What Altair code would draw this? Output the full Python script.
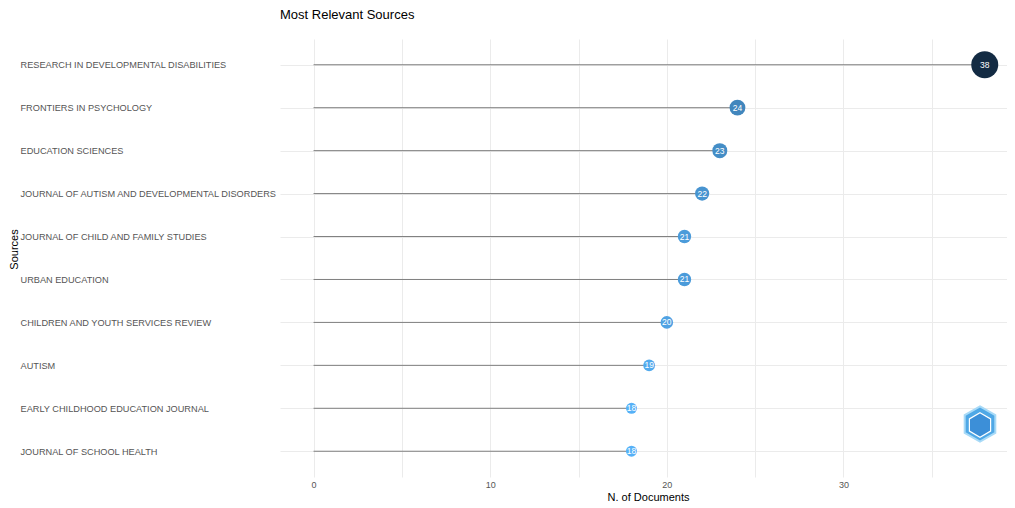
import altair as alt
import pandas as pd

sources = [
    "RESEARCH IN DEVELOPMENTAL DISABILITIES",
    "FRONTIERS IN PSYCHOLOGY",
    "EDUCATION SCIENCES",
    "JOURNAL OF AUTISM AND DEVELOPMENTAL DISORDERS",
    "JOURNAL OF CHILD AND FAMILY STUDIES",
    "URBAN EDUCATION",
    "CHILDREN AND YOUTH SERVICES REVIEW",
    "AUTISM",
    "EARLY CHILDHOOD EDUCATION JOURNAL",
    "JOURNAL OF SCHOOL HEALTH",
]
documents = [38, 24, 23, 22, 21, 21, 20, 19, 18, 18]

df = pd.DataFrame({"source": sources, "docs": documents, "zero": [0] * len(sources)})

FONT = "Liberation Sans"
vmin, vmax = min(documents), max(documents)

y_enc = alt.Y(
    "source:N",
    sort=sources,
    scale=alt.Scale(type="point", padding=0.6),
    title="Sources",
    axis=alt.Axis(
        labelAlign="left",
        labelPadding=260,
        labelFont=FONT,
        labelFontSize=9.2,
        labelColor="#555555",
        labelLimit=400,
        ticks=False,
        domain=False,
        grid=True,
        gridColor="#EBEBEB",
        gridWidth=1,
        titleFont=FONT,
        titleFontSize=11,
        titleFontWeight="normal",
        titleColor="#000000",
        titleX=-261,
        titleY=210,
    ),
)

x_scale = alt.Scale(domain=[-1.9, 39.26], nice=False, zero=False)

segments = alt.Chart(df).mark_rule(color="#7F7F7F", strokeWidth=1).encode(
    x=alt.X(
        "zero:Q",
        scale=x_scale,
        title="N. of Documents",
        axis=alt.Axis(
            values=[0, 5, 10, 15, 20, 25, 30, 35],
            labelExpr="datum.value % 10 === 0 ? datum.label : ''",
            labelFont=FONT,
            labelFontSize=9,
            labelColor="#555555",
            labelPadding=3,
            ticks=False,
            domain=False,
            grid=True,
            gridColor="#EBEBEB",
            gridWidth=1,
            titleFont=FONT,
            titleFontSize=11,
            titleFontWeight="normal",
            titleColor="#000000",
            titlePadding=2,
            titleX=368,
        ),
    ),
    x2="docs:Q",
    y=y_enc,
)

points = alt.Chart(df).transform_calculate(
    diam=f"11 + (datum.docs - {vmin}) * {16 / (vmax - vmin)}",
    sz="datum.diam * datum.diam",
).mark_circle(opacity=1).encode(
    x=alt.X("docs:Q", scale=x_scale),
    y=alt.Y("source:N", sort=sources),
    size=alt.Size("sz:Q", scale=None, legend=None),
    color=alt.Color(
        "docs:Q",
        scale=alt.Scale(domain=[vmin, vmax], range=["#56B1F7", "#132B43"], interpolate="lab"),
        legend=None,
    ),
)

labels = alt.Chart(df).mark_text(
    color="white", font=FONT, fontSize=8.5, align="center", baseline="middle"
).encode(
    x=alt.X("docs:Q", scale=x_scale),
    y=alt.Y("source:N", sort=sources),
    text="docs:Q",
)

hexpath = "M0,-1L0.866,-0.5L0.866,0.5L0,1L-0.866,0.5L-0.866,-0.5Z"
logo_df = pd.DataFrame({"k": [1]})
logo_outer = alt.Chart(logo_df).mark_point(
    shape=hexpath, filled=True, fill="#4FA8E6", stroke="#A8DAF7", strokeWidth=2, opacity=1
).encode(x=alt.value(700), y=alt.value(385), size=alt.value(1250))
logo_inner = alt.Chart(logo_df).mark_point(
    shape=hexpath, filled=True, fill="#3C8FD8", stroke="#FFFFFF", strokeWidth=1.2, opacity=1
).encode(x=alt.value(700), y=alt.value(386), size=alt.value(600))

chart = alt.layer(segments, points, labels, logo_outer, logo_inner).properties(
    width=727,
    height=438,
    autosize=alt.AutoSizeParams(type="none"),
    padding={"left": 272, "top": 31, "right": 0, "bottom": 30},
    title=alt.TitleParams(
        "Most Relevant Sources",
        anchor="start",
        frame="group",
        font=FONT,
        fontSize=13,
        fontWeight="normal",
        color="#000000",
        offset=17,
    ),
).configure_view(stroke=None)

chart.save("out.html", embed_options={"renderer": "svg", "actions": False})
